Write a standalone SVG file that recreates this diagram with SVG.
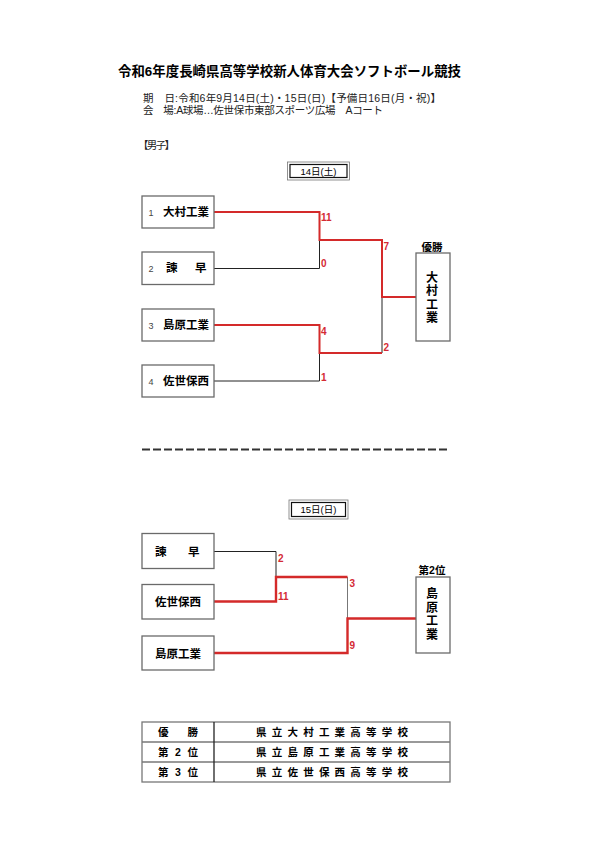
<svg xmlns="http://www.w3.org/2000/svg" width="595" height="842" viewBox="0 0 595 842">
<style>
text{font-family:"Liberation Sans","Noto Sans CJK JP",sans-serif;fill:#000}
.title{font-size:13.4px;font-weight:bold}
.info{font-size:10.5px;fill:#222}
.box{fill:#fff;stroke:#6a6a6a;stroke-width:1.3}
.num{font-size:9px;fill:#444}
.name{font-size:11.5px;font-weight:bold}
.vt{font-size:12px;font-weight:bold;text-anchor:middle}
.lab{font-size:10.5px;font-weight:bold;text-anchor:middle}
.sc{font-size:10px;font-weight:bold;fill:#d42a35}
.red{fill:none;stroke:#d42a2a;stroke-width:2}
.red2{fill:none;stroke:#d42a2a;stroke-width:2.4}
.blk{fill:none;stroke:#222;stroke-width:1}
.gry{fill:none;stroke:#777;stroke-width:1}
.tb{font-size:10.5px;font-weight:bold}
</style>
<rect width="595" height="842" fill="#fff"/>

<g id="header">
<text class="title" x="118" y="76" textLength="343">令和6年度長崎県高等学校新人体育大会ソフトボール競技</text>
<text class="info" x="143" y="101.5" textLength="298">期　日:令和6年9月14日(土)・15日(日)【予備日16日(月・祝)】</text>
<text class="info" x="143" y="113.5" textLength="240">会　場:A球場…佐世保市東部スポーツ広場　Aコート</text>
<text class="info" x="138" y="149" textLength="37">【男子】</text>
</g>

<g id="day1-label">
<rect x="287.5" y="162" width="62" height="18" fill="#fff" stroke="#777" stroke-width="0.8"/>
<rect x="290" y="164.5" width="57" height="13" fill="none" stroke="#111" stroke-width="1.2"/>
<text x="318.5" y="174.8" font-size="9.5" text-anchor="middle">14日(土)</text>
</g>

<g id="connectors-day1">
<path class="blk" d="M214,268.5 H319.5 V240"/>
<path class="blk" d="M214,381 H319.5 V353"/>
<path class="blk" d="M382,297 V353"/>
<path class="red" d="M214,212 H319.5 V240 H382 V297 H416"/>
<path class="red" d="M214,325 H319.5 V353 H382"/>
</g>

<g id="scores-day1">
<text class="sc" x="321" y="221">11</text>
<text class="sc" x="321" y="266.5">0</text>
<text class="sc" x="383.5" y="249.5">7</text>
<text class="sc" x="383.5" y="351">2</text>
<text class="sc" x="321" y="334.5">4</text>
<text class="sc" x="321" y="380.5">1</text>
</g>

<g id="t1">
<rect class="box" x="142" y="196" width="72" height="32"/>
<text class="num" x="148.5" y="215.5">1</text>
<text class="name" x="163" y="216">大村工業</text>
</g>
<g id="t2">
<rect class="box" x="142" y="252" width="72" height="32.5"/>
<text class="num" x="148.5" y="271.5">2</text>
<text class="name" x="166" y="272">諫</text>
<text class="name" x="195" y="272">早</text>
</g>
<g id="t3">
<rect class="box" x="142" y="309" width="72" height="32"/>
<text class="num" x="148.5" y="328.5">3</text>
<text class="name" x="163" y="329">島原工業</text>
</g>
<g id="t4">
<rect class="box" x="142" y="365" width="72" height="32"/>
<text class="num" x="148.5" y="384.5">4</text>
<text class="name" x="163" y="385">佐世保西</text>
</g>

<g id="winner1">
<text class="lab" x="432" y="250.5">優勝</text>
<rect class="box" x="416" y="253" width="34" height="88"/>
<text class="vt" x="432" y="281.5">大</text>
<text class="vt" x="432" y="295">村</text>
<text class="vt" x="432" y="308.5">工</text>
<text class="vt" x="432" y="322">業</text>
</g>

<line x1="142" y1="449.5" x2="450" y2="449.5" stroke="#333" stroke-width="2" stroke-dasharray="8 3"/>

<g id="day2-label">
<rect x="289" y="500" width="59" height="19" fill="#fff" stroke="#777" stroke-width="0.8"/>
<rect x="291.5" y="502.5" width="54" height="14" fill="none" stroke="#111" stroke-width="1.2"/>
<text x="318.5" y="513.2" font-size="9.5" text-anchor="middle">15日(日)</text>
</g>

<g id="connectors-day2">
<path class="blk" d="M214,551.5 H276 V577"/>
<path class="gry" d="M347.5,577 V618.5"/>
<path class="red2" d="M214,601.5 H276 V577 H347.5"/>
<path class="red2" d="M214,653 H347.5 V618.5 H416"/>
</g>

<g id="scores-day2">
<text class="sc" x="278" y="561.5">2</text>
<text class="sc" x="278" y="600">11</text>
<text class="sc" x="349.5" y="587">3</text>
<text class="sc" x="349.5" y="649">9</text>
</g>

<g id="s1">
<rect class="box" x="142" y="533.5" width="72" height="35"/>
<text class="name" x="155" y="556">諫</text>
<text class="name" x="188" y="556">早</text>
</g>
<g id="s2">
<rect class="box" x="142" y="584.5" width="72" height="34.5"/>
<text class="name" x="178" y="606" text-anchor="middle">佐世保西</text>
</g>
<g id="s3">
<rect class="box" x="142" y="636" width="72" height="34"/>
<text class="name" x="178" y="657.5" text-anchor="middle">島原工業</text>
</g>

<g id="second">
<text class="lab" x="432" y="574">第2位</text>
<rect class="box" x="416" y="577" width="34" height="76"/>
<text class="vt" x="432" y="598">島</text>
<text class="vt" x="432" y="611.5">原</text>
<text class="vt" x="432" y="625">工</text>
<text class="vt" x="432" y="638.5">業</text>
</g>

<g id="results-table">
<rect x="142" y="722" width="308" height="60" fill="#fff" stroke="#777" stroke-width="1.3"/>
<line x1="142" y1="742" x2="450" y2="742" stroke="#777" stroke-width="1.3"/>
<line x1="142" y1="762" x2="450" y2="762" stroke="#777" stroke-width="1.3"/>
<line x1="214" y1="722" x2="214" y2="782" stroke="#222" stroke-width="1.3"/>
<text class="tb" x="158" y="736" textLength="40">優　勝</text>
<text class="tb" x="158" y="756" textLength="40">第2位</text>
<text class="tb" x="158" y="776" textLength="40">第3位</text>
<text class="tb" x="256" y="736" textLength="152">県立大村工業高等学校</text>
<text class="tb" x="256" y="756" textLength="152">県立島原工業高等学校</text>
<text class="tb" x="256" y="776" textLength="152">県立佐世保西高等学校</text>
</g>
</svg>
